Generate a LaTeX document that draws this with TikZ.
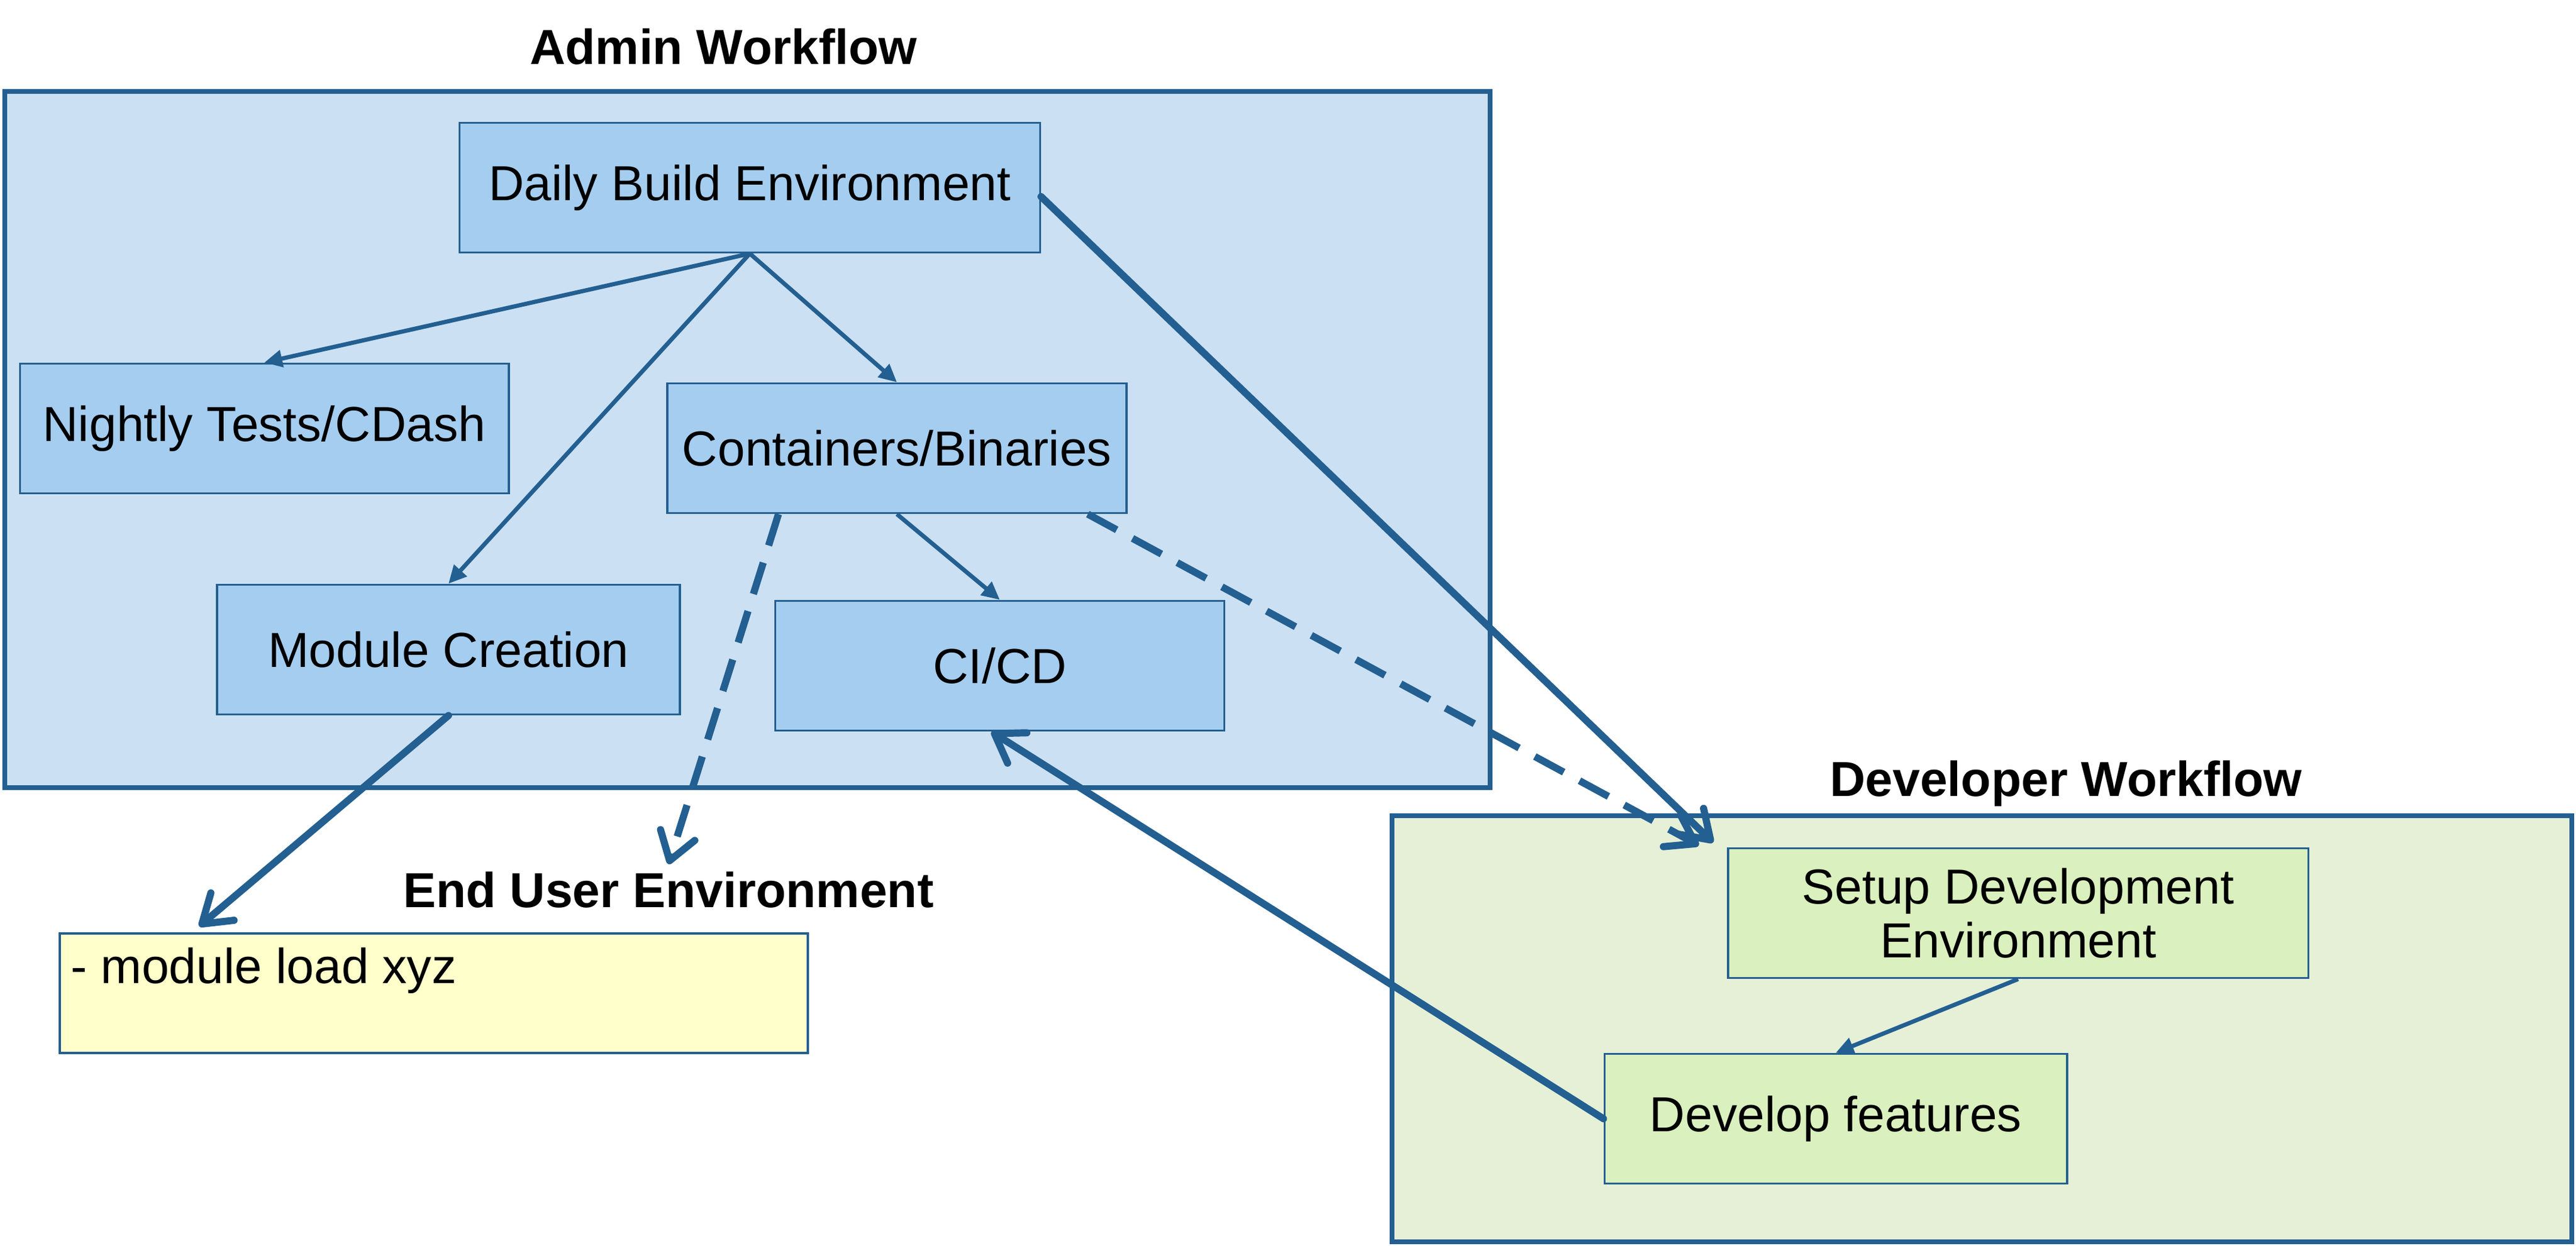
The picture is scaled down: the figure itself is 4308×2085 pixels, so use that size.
\documentclass[tikz,border=0pt]{standalone}
\usepackage{fontspec}
\setmainfont{Liberation Sans}
\usetikzlibrary{arrows.meta}
\definecolor{flowline}{HTML}{235F91}
\definecolor{adminbg}{HTML}{CBE0F3}
\definecolor{adminbox}{HTML}{A5CDEF}
\definecolor{devbg}{HTML}{E5F0D7}
\definecolor{devbox}{HTML}{DAF0BE}
\definecolor{userbg}{HTML}{FFFFCC}
\newcommand\flowfont{\fontsize{23.4}{25.5}\selectfont}
\tikzset{
	frame/.style={draw=flowline, line width=2.3pt},
	abox/.style={draw=flowline, line width=1pt, fill=adminbox, font=\flowfont, align=center, minimum height=2.17cm},
	dbox/.style={abox, fill=devbox},
	title/.style={anchor=base, font=\bfseries\flowfont},
	thinarrow/.style={draw=flowline, line width=2pt, -{Triangle[length=0.3cm,width=0.28cm]}},
	thickarrow/.style={draw=flowline, line width=3.4pt, line cap=round, -{Straight Barb[length=0.45cm,width=0.6cm,round]}},
	dasharrow/.style={thickarrow, line cap=butt, dash pattern=on 0.55cm off 0.3cm}
}
\begin{document}
\begin{tikzpicture}[x=0.01cm,y=-0.01cm]
\useasboundingbox (0,0) rectangle (4308,2085);
\draw[frame, fill=adminbg] (8,153) rectangle (2492,1318);
\draw[frame, fill=devbg] (2328,1365) rectangle (4301,2078);
\draw[draw=flowline, line width=1pt, fill=userbg] (100,1562) rectangle (1351,1762);
\coordinate (enduser) at (100,1562);
\path
	(1210,108) node [title] (admin) {Admin Workflow}
	(3455,1332) node [title] (developer) {Developer Workflow}
	(1118,1518) node [title] (eutitle) {End User Environment}
	(106,1645) node [anchor=base west, font=\flowfont] (modload) {- module load xyz};
\path
	(1254,314) node [abox, minimum width=9.7cm] (daily) {Daily Build Environment}
	(442,717) node [abox, minimum width=8.17cm] (nightly) {Nightly Tests/CDash}
	(1500,750) node [abox, minimum width=7.68cm] (contain) {Containers/Binaries}
	(750,1087) node [abox, minimum width=7.74cm] (module) {Module Creation}
	(1672,1114) node [abox, minimum width=7.51cm] (cicd) {CI/CD}
	(3375,1528) node [dbox, minimum width=9.7cm] (setup) {Setup Development\\Environment}
	(3070,1872) node [dbox, minimum width=7.73cm] (devfeat) {Develop features};
\foreach \a/\b in {daily/nightly,daily/module,daily/contain,contain/cicd,setup/devfeat}{
	\draw[thinarrow] (\a.south) -- (\b.north);
}
\draw[thickarrow] ([yshift=-0.15cm]daily.east) -- ([xshift=-0.23cm,yshift=0.08cm]setup.north west);
\draw[dasharrow] ([xshift=3.19cm]contain.south) -- ([xshift=-0.47cm,yshift=0.03cm]setup.north west);
\draw[dasharrow] ([xshift=-1.98cm]contain.south) -- (eutitle.north);
\draw[thickarrow] (module.south) -- ([xshift=2.33cm,yshift=0.12cm]enduser);
\draw[thickarrow] (devfeat.west) -- ([xshift=-0.14cm]cicd.south);
\end{tikzpicture}
\end{document}
